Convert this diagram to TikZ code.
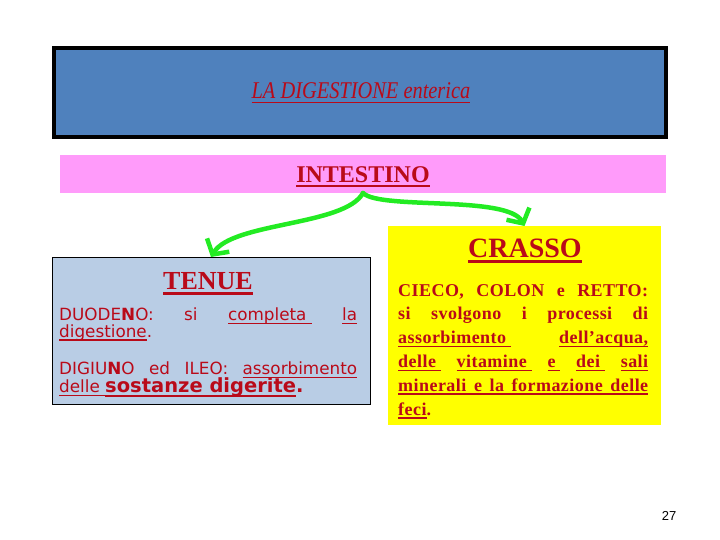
\documentclass[tikz,border=0pt]{standalone}
\usepackage{fontspec}
\setmainfont{Liberation Serif}
\newfontfamily\verdanafont{DejaVu Sans}
\newfontfamily\crassofont[LetterSpace=2.5]{Liberation Serif}
\newfontfamily\numerofont{Liberation Sans}
\usetikzlibrary{arrows.meta}
\usetikzlibrary{positioning}

\definecolor{bluslide}{RGB}{79,129,189}
\definecolor{rosaslide}{RGB}{255,155,250}
\definecolor{azzurroslide}{RGB}{185,205,229}
\definecolor{gialloslide}{RGB}{255,255,0}
\definecolor{rossotesto}{RGB}{185,10,25}
\definecolor{verdefreccia}{RGB}{35,235,35}

% sottolineatura spessa
\newcommand{\sott}[2][0.08em]{\leavevmode\setbox0\hbox{#2}\rlap{\rule[-0.2em]{\wd0}{#1}}\box0\relax}

\begin{document}
\begin{tikzpicture}[x=1pt,y=-1pt,
	scatola/.style={inner sep=0pt, outer sep=0pt},
	riga/.style={anchor=base west, inner sep=0pt, text=rossotesto},
	titoletto/.style={anchor=base, inner sep=0pt, text=rossotesto},
	freccia/.style={draw=verdefreccia, line width=4.5pt, line cap=round,
		-{Straight Barb[length=11pt,width=26pt]}}]
		\useasboundingbox (0,0) rectangle (720,540);

		% riquadri
		\node[scatola, fill=bluslide, draw=black, line width=4pt, minimum width=612pt, minimum height=89pt] (titolo) at (360,92.5) {};
		\node[scatola, fill=rosaslide, minimum width=606pt, minimum height=38pt] (intestino) at (363,174) {};
		\node[scatola, fill=azzurroslide, draw=black, line width=0.8pt, minimum width=318pt, minimum height=147pt] (tenue) at (211,330.5) {};
		\node[scatola, fill=gialloslide, minimum width=273pt, minimum height=199pt] (crasso) at (524.5,325.5) {};

		% titoli
		\node[titoletto] (titolotxt) at (361,98.3) {\fontsize{24}{28}\selectfont\itshape\scalebox{0.85}[1]{\sott[0.06em]{LA DIGESTIONE enterica}}};
		\node[titoletto] (intestinotxt) at (363,182.3) {\fontsize{24}{28}\selectfont\bfseries\sott[0.1em]{INTESTINO}};
		\node[titoletto] (tenuetxt) at (208,289.3) {\fontsize{26}{30}\selectfont\bfseries\sott[0.09em]{TENUE}};
		\node[titoletto] (crassotxt) at (525,257) {\fontsize{28}{32}\selectfont\bfseries\sott[0.09em]{CRASSO}};

		% frecce
		\draw[freccia] (intestino.south) .. controls (345,226) and (232,222) .. (tenue.north);
		\draw[freccia] (intestino.south) .. controls (380,210) and (508,195) .. (crasso.north);

		% testo tenue
		\node[riga] (tenueA) at (59,320.7) {\verdanafont\fontsize{16.8}{18}\selectfont\makebox[298pt][s]{DUODE{\bfseries N}O: si \sott{completa\ } \sott{la}}};
		\node[riga] (tenueB) at (59,337.3) {\verdanafont\fontsize{16.8}{18}\selectfont\sott{digestione}.};
		\node[riga] (tenueC) at (59,374.7) {\verdanafont\fontsize{16.8}{18}\selectfont\makebox[298pt][s]{DIGIU{\bfseries N}O ed ILEO: \sott{assorbimento}}};
		\node[riga] (tenueD) at (59,392.7) {\verdanafont\fontsize{16.8}{18}\selectfont\sott{delle\ }\fontsize{19.5}{22}\selectfont\bfseries\sott{sostanze digerite}.};

		% testo crasso
		\node[riga] (crassoA) at (398,296) {\crassofont\bfseries\fontsize{18}{20}\selectfont\makebox[250pt][s]{CIECO, COLON e RETTO:}};
		\node[riga] (crassoB) at (398,319.8) {\crassofont\bfseries\fontsize{18}{20}\selectfont\makebox[250pt][s]{si svolgono i processi di}};
		\node[riga] (crassoC) at (398,343.6) {\crassofont\bfseries\fontsize{18}{20}\selectfont\makebox[250pt][s]{\sott{assorbimento\ } \sott{dell’acqua,}}};
		\node[riga] (crassoD) at (398,367.4) {\crassofont\bfseries\fontsize{18}{20}\selectfont\makebox[250pt][s]{\sott{delle\ } \sott{vitamine\ } \sott{e\ } \sott{dei\ } \sott{sali}}};
		\node[riga] (crassoE) at (398,391.2) {\crassofont\bfseries\fontsize{18}{20}\selectfont\sott{\makebox[250pt][s]{minerali e la formazione delle}}};
		\node[riga] (crassoF) at (398,415) {\crassofont\bfseries\fontsize{18}{20}\selectfont\sott{feci}.};

		% numero pagina
		\node[anchor=base, inner sep=0pt] (numpag) at (669,520) {\numerofont\fontsize{13}{15}\selectfont 27};
\end{tikzpicture}
\end{document}
